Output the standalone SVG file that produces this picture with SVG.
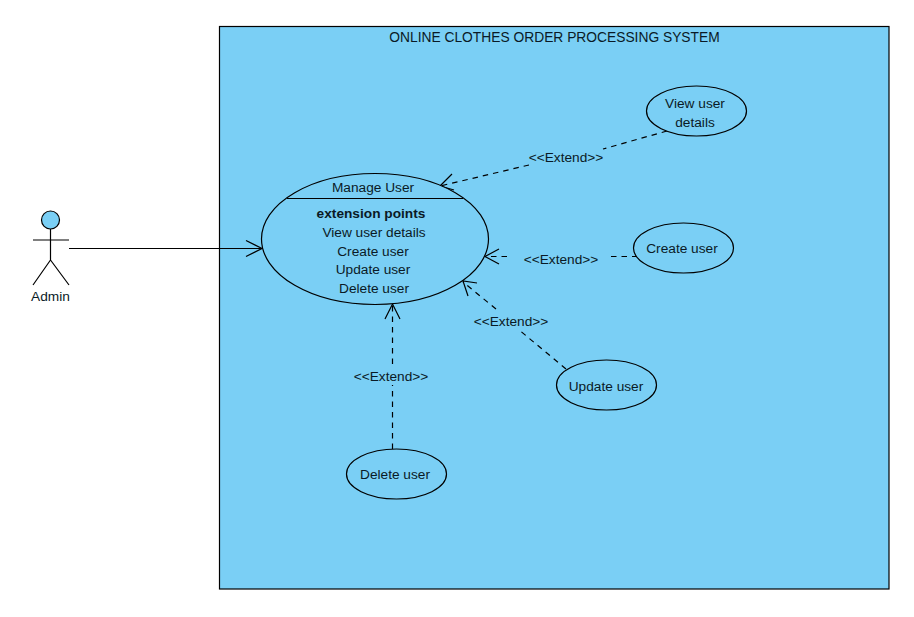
<svg xmlns="http://www.w3.org/2000/svg" width="914" height="617" viewBox="0 0 914 617">
<style>
text{font-family:"Liberation Sans",Arial,sans-serif;font-size:13.7px;fill:#0a1a26;text-anchor:middle}
.s{fill:none;stroke:#000;stroke-width:1.2}
.u{fill:#7acff5;stroke:#000;stroke-width:1.2}
.d{fill:none;stroke:#000;stroke-width:1.2;stroke-dasharray:5.500 5}
.h{fill:none;stroke:#000;stroke-width:1.2}
.b{font-weight:bold}
</style>
<rect width="914" height="617" fill="#fff"/>
<g id="system">
<rect x="219.500" y="26.500" width="669.500" height="562.500" class="u"/>
<text x="554.500" y="42" style="font-size:13.8px">ONLINE CLOTHES ORDER PROCESSING SYSTEM</text>
</g>
<g id="connectors">
<line x1="69" y1="248.500" x2="262" y2="248.500" class="s"/>
<path d="M246 240.500L262 248.500L246 256.500" class="h"/>
<path d="M667 131L603 149M529 165L440 186" class="d"/>
<path d="M452 174L440 186L454 190" class="h"/>
<path d="M611 256.500H637M507 256.500H486" class="d"/>
<path d="M499 249L485 256.500L499 264" class="h"/>
<path d="M566 369L518 329M496 309L463 282" class="d"/>
<path d="M477 283L463 281L468 296" class="h"/>
<path d="M392.500 449V385M392.500 364V305" class="d"/>
<path d="M385 319L392.500 304L400 319" class="h"/>
<text x="566" y="162">&lt;&lt;Extend&gt;&gt;</text>
<text x="561" y="264">&lt;&lt;Extend&gt;&gt;</text>
<text x="511" y="326">&lt;&lt;Extend&gt;&gt;</text>
<text x="391" y="381">&lt;&lt;Extend&gt;&gt;</text>
</g>
<g id="admin">
<circle cx="50.500" cy="220" r="9" class="u"/>
<path d="M50.500 229V260M33 240H69M50.500 260L33 285M50.500 260L69 285" class="s"/>
<text x="50.500" y="301">Admin</text>
</g>
<g id="manage-user">
<ellipse cx="375" cy="239" rx="113.500" ry="65.500" class="u"/>
<line x1="287" y1="198.500" x2="463" y2="198.500" class="s"/>
<text x="373" y="192">Manage User</text>
<text x="371" y="218" class="b">extension points</text>
<text x="374" y="237">View user details</text>
<text x="373" y="256">Create user</text>
<text x="373" y="274">Update user</text>
<text x="374" y="293">Delete user</text>
</g>
<g id="view-user-details">
<ellipse cx="696.500" cy="111" rx="50" ry="25" class="u"/>
<text x="695" y="108">View user</text>
<text x="695" y="127">details</text>
</g>
<g id="create-user">
<ellipse cx="683.500" cy="248" rx="50" ry="25" class="u"/>
<text x="682" y="253">Create user</text>
</g>
<g id="update-user">
<ellipse cx="606.500" cy="385" rx="50" ry="25" class="u"/>
<text x="606" y="391">Update user</text>
</g>
<g id="delete-user">
<ellipse cx="396.500" cy="474" rx="50" ry="25" class="u"/>
<text x="395" y="479">Delete user</text>
</g>
</svg>
